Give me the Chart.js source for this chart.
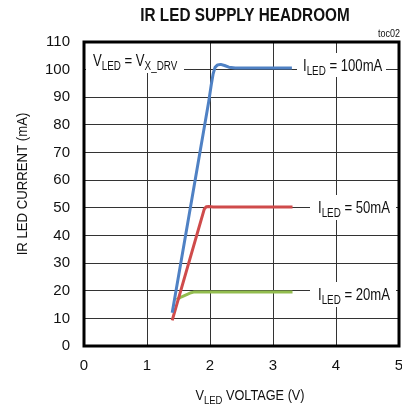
<!DOCTYPE html>
<html>
<head>
<meta charset="utf-8">
<script src="https://cdn.jsdelivr.net/npm/chart.js@4"></script>
<style>
  html, body { margin: 0; padding: 0; background: #fff; }
  #wrap { width: 402px; height: 409px; }
</style>
</head>
<body>
<div id="wrap"><canvas id="chart" width="402" height="409"></canvas></div>
<script>
// data (V, mA)
var blueV  = [1.40, 1.98, 2.02, 2.05, 2.08, 2.12, 2.17, 2.23, 2.30, 2.40, 2.6, 3.3];
var blueI  = [12.0, 88.5, 94.5, 98.5, 100.8, 101.7, 101.9, 101.5, 100.9, 100.6, 100.6, 100.6];
var redV   = [1.40, 1.91, 1.94, 1.98, 2.05, 3.31];
var redI   = [9.3, 49.6, 50.4, 50.5, 50.3, 50.3];
var greenV = [1.47, 1.55, 1.70, 1.74, 3.31];
var greenI = [16.8, 17.8, 19.3, 19.5, 19.5];
var xTicks = [0, 1, 2, 3, 4, 5];
var yTicks = [0, 10, 20, 30, 40, 50, 60, 70, 80, 90, 100, 110];

var curveNames = ['100mA', '50mA', '20mA'];
var curveColors = ['#4f81c4', '#cf4b4b', '#93bd4f'];

function pts(xs, ys) {
  var out = [];
  for (var i = 0; i < xs.length; i++) out.push({x: xs[i], y: ys[i]});
  return out;
}

var FONT = '"Liberation Sans", Arial, sans-serif';
var SQ = 0.82; // condensed look (no Arial Narrow here)

// draw text squeezed horizontally, left aligned
function squeezed(ctx, txt, x, y, sx) {
  ctx.save();
  ctx.translate(x, y);
  ctx.scale(sx, 1);
  ctx.fillText(txt, 0, 0);
  ctx.restore();
  return ctx.measureText(txt).width * sx;
}

// text with subscript parts: [[text, sub?], ...]
function richText(ctx, parts, x, y, size, sx, measureOnly) {
  var w = 0;
  ctx.textAlign = 'left';
  ctx.textBaseline = 'alphabetic';
  parts.forEach(function (p) {
    var s = p[1] ? size * 0.75 : size;
    ctx.font = s + 'px ' + FONT;
    if (measureOnly) w += ctx.measureText(p[0]).width * sx;
    else w += squeezed(ctx, p[0], x + w, p[1] ? y + size * 0.28 : y, sx);
  });
  return w;
}

function label(ctx, parts, x, y, box) {
  ctx.save();
  if (box) {
    ctx.fillStyle = '#fff';
    ctx.fillRect(box[0], box[1], box[2] - box[0], box[3] - box[1]);
  }
  ctx.fillStyle = '#111';
  richText(ctx, parts, x, y, 16, SQ, false);
  ctx.restore();
}

var decor = {
  id: 'decor',
  afterDatasetsDraw: function (chart) {
    var ctx = chart.ctx, a = chart.chartArea;
    // in-plot labels with white boxes
    label(ctx, [['V'], ['LED', 1], [' = V'], ['X_DRV', 1]], 93, 66, [a.left + 2, a.top + 1, 184, 73]);
    label(ctx, [['I'], ['LED', 1], [' = ' + curveNames[0]]], 303, 71, [297, 53, 386, 77]);
    label(ctx, [['I'], ['LED', 1], [' = ' + curveNames[1]]], 318, 213, [310, 195, 396, 220]);
    label(ctx, [['I'], ['LED', 1], [' = ' + curveNames[2]]], 318, 300, [310, 282, 396, 307]);
    // frame
    ctx.save();
    ctx.strokeStyle = '#000';
    ctx.lineWidth = 3;
    ctx.strokeRect(a.left, a.top, a.right - a.left, a.bottom - a.top);
    ctx.restore();
  },
  afterDraw: function (chart) {
    var ctx = chart.ctx;
    ctx.save();
    ctx.fillStyle = '#111';
    ctx.textBaseline = 'alphabetic';
    ctx.textAlign = 'left';
    ctx.font = 'bold 18px ' + FONT;
    var tw = ctx.measureText('IR LED SUPPLY HEADROOM').width * 0.85;
    squeezed(ctx, 'IR LED SUPPLY HEADROOM', 245 - tw / 2, 21, 0.85);
    ctx.font = '10px ' + FONT;
    var t2 = ctx.measureText('toc02').width * 0.9;
    squeezed(ctx, 'toc02', 400 - t2, 37, 0.9);
    // y title
    ctx.save();
    ctx.translate(27, 184);
    ctx.rotate(-Math.PI / 2);
    ctx.font = '15.5px ' + FONT;
    var yw = ctx.measureText('IR LED CURRENT (mA)').width * 0.85;
    squeezed(ctx, 'IR LED CURRENT (mA)', -yw / 2, 0, 0.85);
    ctx.restore();
    // x title
    var parts = [['V'], ['LED', 1], [' VOLTAGE (V)']];
    var w = richText(ctx, parts, 0, 0, 15.5, SQ, true);
    richText(ctx, parts, 250 - w / 2, 400, 15.5, SQ, false);
    ctx.restore();
  }
};

function ds(data, color) {
  return {
    data: data,
    borderColor: color,
    borderWidth: 3,
    pointRadius: 0,
    fill: false,
    tension: 0,
    borderJoinStyle: 'round'
  };
}

new Chart(document.getElementById('chart'), {
  type: 'line',
  data: {
    datasets: [
      ds(pts(blueV, blueI), curveColors[0]),
      ds(pts(redV, redI), curveColors[1]),
      ds(pts(greenV, greenI), curveColors[2])
    ]
  },
  options: {
    responsive: false,
    animation: false,
    layout: { padding: { left: 0, top: 42, right: 3, bottom: 0 } },
    plugins: { legend: { display: false }, tooltip: { enabled: false }, title: { display: false } },
    scales: {
      x: {
        type: 'linear',
        min: 0, max: 5,
        afterBuildTicks: function (s) { s.ticks = xTicks.map(function (v) { return {value: v}; }); },
        afterFit: function (s) { s.height = 63; s.paddingLeft = 0; s.paddingRight = 0; },
        grid: { color: '#333', lineWidth: 1, drawTicks: false },
        border: { display: false },
        ticks: { color: '#111', padding: 11, font: { size: 15, family: FONT }, maxRotation: 0 }
      },
      y: {
        type: 'linear',
        min: 0, max: 110,
        afterBuildTicks: function (s) { s.ticks = yTicks.map(function (v) { return {value: v}; }); },
        afterFit: function (s) { s.width = 84; s.paddingTop = 0; s.paddingBottom = 0; },
        grid: { color: '#333', lineWidth: 1, drawTicks: false },
        border: { display: false },
        ticks: { color: '#111', padding: 14, font: { size: 15, family: FONT } }
      }
    }
  },
  plugins: [decor]
});
</script>
</body>
</html>
